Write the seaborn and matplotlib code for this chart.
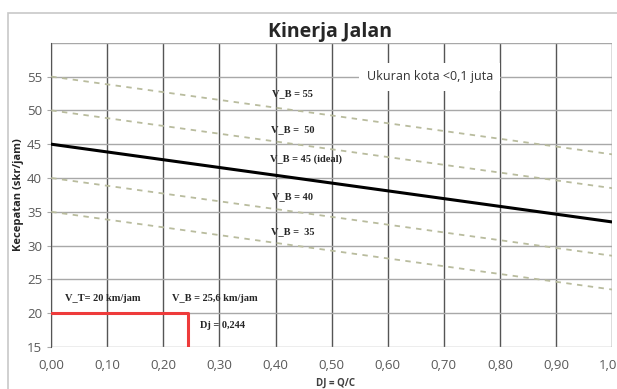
import numpy as np
import pandas as pd
import matplotlib
matplotlib.use("Agg")
from matplotlib import pyplot as plt
from matplotlib.patches import Rectangle
from matplotlib.ticker import FuncFormatter
import seaborn as sns

# speed lines: value at DJ = 0 and DJ = 1
dj_ends = [0.0, 1.0]
vb_names = ["V_B = 55", "V_B = 50", "V_B = 40", "V_B = 35"]
vb_start = [55, 50, 40, 35]
vb_end = [43.5, 38.5, 28.5, 23.5]
ideal_start = 45
ideal_end = 33.5

# red reading of the chart
dj_value = 0.244
vt_value = 20
y_bottom = 15

x_ticks = [0.0, 0.1, 0.2, 0.3, 0.4, 0.5, 0.6, 0.7, 0.8, 0.9, 1.0]
y_ticks = [15, 20, 25, 30, 35, 40, 45, 50, 55]

sns.set_style("white")
plt.rcParams["font.family"] = ["Open Sans", "DejaVu Sans"]

fig = plt.figure(figsize=(6.17, 3.89), dpi=100)
ax = fig.add_axes([0.083, 0.108, 0.909, 0.782])

# light frame around the whole chart
fig.patches.append(Rectangle((8 / 617, -0.1), 1.2, 1 - 13 / 389 + 0.1,
                             transform=fig.transFigure, fill=False,
                             edgecolor="#c8c8c8", linewidth=1.2, zorder=0))

dashed = pd.DataFrame({
    "dj": dj_ends * len(vb_names),
    "v": [v for pair in zip(vb_start, vb_end) for v in pair],
    "line": [n for n in vb_names for _ in dj_ends],
})
sns.lineplot(data=dashed, x="dj", y="v", units="line", estimator=None,
             color="#b9bc9e", linewidth=1.3, dashes=False, ax=ax, zorder=3)
for ln in ax.lines:
    ln.set_dashes((3, 3))

ideal = pd.DataFrame({"dj": dj_ends, "v": [ideal_start, ideal_end]})
sns.lineplot(data=ideal, x="dj", y="v", color="black", linewidth=2.2, ax=ax, zorder=4)

# red path: horizontal at V_T, then down at DJ
red = pd.DataFrame({"dj": [0.0, dj_value, dj_value], "v": [vt_value, vt_value, y_bottom]})
sns.lineplot(data=red, x="dj", y="v", sort=False, estimator=None,
             color="#ee3b3b", linewidth=2.2, ax=ax, zorder=5)

ax.set_xlim(0, 1)
ax.set_ylim(15, 60)
ax.set_xticks(x_ticks)
ax.set_yticks(y_ticks)
ax.xaxis.set_major_formatter(FuncFormatter(lambda v, p: f"{v:.2f}".replace(".", ",")))
ax.grid(True, axis="x", color="#555555", linewidth=1.0)
ax.grid(True, axis="y", color="#a8a8a8", linewidth=1.0)
ax.axhline(60, color="#a8a8a8", linewidth=1.0)
ax.set_axisbelow(True)
for s in ["top", "right", "bottom"]:
    ax.spines[s].set_visible(False)
ax.spines["left"].set_color("#555555")
ax.tick_params(axis="both", labelsize=9.5, labelcolor="#595959", colors="#a8a8a8",
               length=3, left=True, bottom=False)
ax.tick_params(axis="x", pad=6)

ax.set_xlabel("")
fig.text(0.543, 0.016, "DJ = Q/C", ha="center", va="center",
         fontsize=7, color="#404040", fontweight="bold")
ax.set_ylabel("Kecepatan (skr/jam)", fontsize=8, fontweight="bold", labelpad=2)
fig.text(0.535, 0.918, "Kinerja Jalan", ha="center", va="center",
         fontsize=14, fontweight="bold")

serif = dict(family="Liberation Serif", fontweight="bold", fontsize=7.5, zorder=6)
ax.text(0.43, 52.5, "V_B = 55", ha="center", va="center", **serif)
ax.text(0.43, 47.2, "V_B =  50", ha="center", va="center", **serif)
ax.text(0.455, 42.8, "V_B = 45 (ideal)", ha="center", va="center", **serif)
ax.text(0.43, 37.3, "V_B = 40", ha="center", va="center", **serif)
ax.text(0.43, 32.0, "V_B =  35", ha="center", va="center", **serif)
ax.text(0.025, 22.2, "V_T= 20 km/jam", ha="left", va="center", **serif)
ax.text(0.215, 22.2, "V_B = 25,6 km/jam", ha="left", va="center", **serif)
ax.text(0.265, 18.2, "Dj = 0,244", ha="left", va="center", **serif)

ax.text(0.675, 55, "Ukuran kota <0,1 juta", ha="center", va="center",
        fontsize=9, color="#333333", zorder=6,
        bbox=dict(boxstyle="square,pad=0.6", facecolor="white", edgecolor="none"))

fig.savefig("out.png", dpi=100)
